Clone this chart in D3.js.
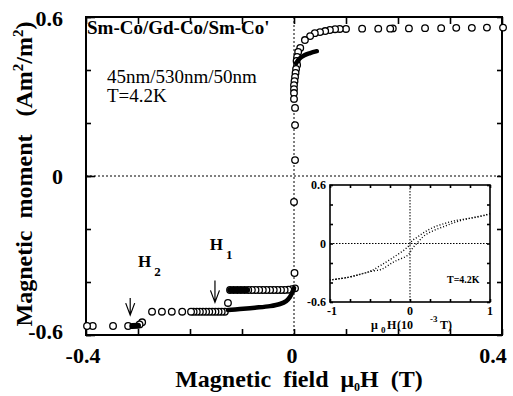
<!DOCTYPE html>
<html><head><meta charset="utf-8">
<script src="https://cdn.jsdelivr.net/npm/d3@7"></script>
<style>
body{margin:0;background:#fff}
svg{display:block}
text{font-family:"Liberation Serif","Times New Roman",serif;white-space:pre}
</style>
</head><body><svg id="c" width="513" height="396" font-family="Liberation Serif, Times New Roman, serif"></svg>
<script>
// ---------- data (field in T, moment in Am^2/m^2) ----------
const xTickValues = [-0.4,-0.3,-0.2,-0.1,0,0.1,0.2,0.3,0.4];
const yTickValues = [-0.6,-0.4,-0.2,0,0.2,0.4,0.6];
const xLabelValues = [-0.4,0,0.4];
const yLabelValues = [-0.6,0,0.6];

// major loop, open circles
const upperBranch = [
 [0.402,0.560],[0.371,0.560],[0.342,0.559],[0.312,0.559],[0.283,0.558],[0.252,0.558],
 [0.221,0.557],[0.190,0.557],[0.185,0.556],[0.162,0.556],[0.131,0.556],[0.100,0.555],
 [0.088,0.555],[0.079,0.554],[0.069,0.551],[0.060,0.547],[0.050,0.543],[0.040,0.539],
 [0.031,0.528],[0.021,0.513],[0.012,0.483],[0.008,0.468],[0.006,0.449],[0.005,0.434],
 [0.006,0.419],[0.004,0.404],[0.003,0.389],[0.002,0.374],[0.001,0.358],[0.000,0.343],
 [0.000,0.328],[0.000,0.313],[0.000,0.291],[0.002,0.257],[0.002,0.192],[0.002,0.060],
 [0.000,-0.098],[0.001,-0.366]
];
const lowerBranch = [
 [0.002,-0.424],[-0.004,-0.427],[-0.011,-0.429],[-0.018,-0.430],[-0.025,-0.430],[-0.032,-0.430],
 [-0.039,-0.430],[-0.046,-0.430],[-0.053,-0.430],[-0.060,-0.430],[-0.067,-0.430],[-0.074,-0.430],
 [-0.081,-0.430],[-0.088,-0.430],[-0.095,-0.430],[-0.102,-0.430],[-0.109,-0.430],[-0.116,-0.430],
 [-0.123,-0.430],
 [-0.127,-0.479],
 [-0.133,-0.512],[-0.139,-0.512],[-0.145,-0.512],[-0.151,-0.512],[-0.157,-0.512],[-0.163,-0.512],
 [-0.169,-0.512],[-0.175,-0.512],[-0.181,-0.512],[-0.187,-0.512],[-0.193,-0.512],[-0.198,-0.512],
 [-0.215,-0.512],[-0.235,-0.512],[-0.254,-0.512],[-0.273,-0.512],
 [-0.292,-0.552],[-0.297,-0.560],
 [-0.319,-0.566],[-0.348,-0.566],[-0.387,-0.566],[-0.398,-0.566]
];
// minor loops, filled (dense) points
const minorNearZeroUp = [[0.004,0.425],[0.010,0.442],[0.020,0.456],[0.031,0.464],[0.044,0.471]];
const minorReturnH1 = [[-0.127,-0.506],[-0.104,-0.502],[-0.075,-0.497],[-0.046,-0.491],[-0.027,-0.483],
 [-0.015,-0.472],[-0.008,-0.457],[-0.003,-0.438],[0.000,-0.423]];
const minorRowH1 = [[-0.123,-0.430],[-0.090,-0.430]];
const minorRowH2 = [[-0.311,-0.566],[-0.300,-0.565]];

// inset (field in 1e-3 T)
const insetXTicks = [-1,-0.75,-0.5,-0.25,0,0.25,0.5,0.75,1];
const insetYTicks = [-0.6,-0.4,-0.2,0,0.2,0.4,0.6];
const insetXLabels = [-1,0,1];
const insetYLabels = [-0.6,0,0.6];
const insetDescending = [[1.0,0.310],[0.94,0.292],[0.81,0.269],[0.69,0.251],[0.56,0.234],[0.44,0.207],
 [0.31,0.172],[0.19,0.121],[0.10,0.070],[0.025,0.026],[-0.025,-0.033],[-0.2,-0.138],[-0.36,-0.221],
 [-0.49,-0.282],[-0.61,-0.313],[-0.775,-0.347],[-1.0,-0.374]];
const insetAscending = [[-1.0,-0.374],[-0.775,-0.347],[-0.61,-0.313],[-0.49,-0.286],[-0.36,-0.265],
 [-0.2,-0.187],[-0.025,-0.118],[0.025,-0.056],[0.10,0.015],[0.19,0.087],[0.31,0.138],[0.44,0.179],
 [0.56,0.217],[0.69,0.248],[0.81,0.267],[0.94,0.290],[1.0,0.305]];

// annotations
const arrows = [{x:-0.152,from:-0.394,to:-0.477},{x:-0.315,from:-0.460,to:-0.525}];
const fieldLabels = [{name:"H",sub:"1",x:-0.162,y:-0.279},{name:"H",sub:"2",x:-0.300,y:-0.343}];

// ---------- drawing ----------
const svg = d3.select("#c");
const M = {l:86,r:502,t:17,b:335};
const x = d3.scaleLinear().domain([-0.4,0.4]).range([M.l,M.r]);
const y = d3.scaleLinear().domain([-0.6,0.6]).range([M.b,M.t]);

function axisG(axis, tx, ty){
  const g = svg.append("g").attr("transform",`translate(${tx},${ty})`).call(axis);
  g.select(".domain").remove();
  g.selectAll(".tick line").attr("stroke","#000").attr("stroke-width",1.6);
  g.selectAll(".tick text").remove();
  return g;
}
axisG(d3.axisBottom(x).tickValues(xTickValues).tickSize(-6),0,M.b);
axisG(d3.axisTop(x).tickValues(xTickValues).tickSize(-7),0,M.t);
axisG(d3.axisLeft(y).tickValues(yTickValues).tickSize(-5),M.l,0);
axisG(d3.axisLeft(y).tickValues(yLabelValues).tickSize(-9),M.l,0);
axisG(d3.axisRight(y).tickValues(yTickValues).tickSize(-5),M.r,0);

// zero lines
svg.append("line").attr("x1",M.l).attr("x2",M.r).attr("y1",y(0)).attr("y2",y(0))
  .attr("stroke","#000").attr("stroke-width",1).attr("stroke-dasharray","2,2");
svg.append("line").attr("x1",x(0)).attr("x2",x(0)).attr("y1",M.t).attr("y2",M.b)
  .attr("stroke","#000").attr("stroke-width",1).attr("stroke-dasharray","2,2");

// frame
svg.append("rect").attr("x",M.l).attr("y",M.t).attr("width",M.r-M.l).attr("height",M.b-M.t)
  .attr("fill","none").attr("stroke","#000").attr("stroke-width",2);

// tick labels
svg.selectAll(".xl").data(xLabelValues).join("text")
  .attr("x",d=>x(d)-(d>0?9:d<0?3:2)).attr("y",363).attr("text-anchor","middle")
  .attr("font-size",22).attr("font-weight","bold").text(d=>d===0?"0":d.toFixed(1));
svg.selectAll(".yl").data(yLabelValues).join("text")
  .attr("x",63).attr("y",d=>Math.max(M.t+1,Math.min(M.b-4,y(d)))).attr("dy","0.35em")
  .attr("text-anchor","end").attr("font-size",22).attr("font-weight","bold")
  .text(d=>d===0?"0":d.toFixed(1));

// axis titles
const xt = svg.append("text").attr("x",299).attr("y",387).attr("text-anchor","middle")
  .attr("font-size",24).attr("font-weight","bold");
xt.append("tspan").text("Magnetic  field  \u03bc");
xt.append("tspan").attr("dy",4).attr("font-size",12).text("0");
xt.append("tspan").attr("dy",-4).text("H  (T)");

const yt = svg.append("text").attr("transform","translate(32,174) rotate(-90)")
  .attr("text-anchor","middle").attr("font-size",24).attr("font-weight","bold");
yt.append("tspan").text("Magnetic  moment   (Am");
yt.append("tspan").attr("dy",-9).attr("font-size",15).text("2");
yt.append("tspan").attr("dy",9).text("/m");
yt.append("tspan").attr("dy",-9).attr("font-size",15).text("2");
yt.append("tspan").attr("dy",9).text(")");

// text annotations
svg.append("text").attr("x",87).attr("y",34).attr("font-size",19).attr("font-weight","bold")
  .text("Sm-Co/Gd-Co/Sm-Co'");
svg.append("text").attr("x",107).attr("y",83).attr("font-size",19).text("45nm/530nm/50nm");
svg.append("text").attr("x",107).attr("y",102).attr("font-size",19).text("T=4.2K");

// data: open circles
const pts = upperBranch.concat(lowerBranch);
svg.append("g").selectAll("circle").data(pts).join("circle")
  .attr("cx",d=>x(d[0])).attr("cy",d=>y(d[1])).attr("r",3.3)
  .attr("fill","#fff").attr("stroke","#000").attr("stroke-width",1.3);

// minor loops (dense filled points)
const line = d3.line().x(d=>x(d[0])).y(d=>y(d[1])).curve(d3.curveCatmullRom);
[[minorNearZeroUp,4.5],[minorReturnH1,4.5],[minorRowH1,6],[minorRowH2,6]].forEach(([d,w])=>{
  svg.append("path").attr("d",line(d)).attr("fill","none").attr("stroke","#000")
    .attr("stroke-width",w).attr("stroke-linecap","round");
});

// arrows and H labels
arrows.forEach(a=>{
  const ax=x(a.x), y0=y(a.from), y1=y(a.to);
  svg.append("path").attr("d",`M${ax},${y0}L${ax},${y1}M${ax-4.5},${y1-12}L${ax},${y1}L${ax+4.5},${y1-12}`)
    .attr("fill","none").attr("stroke","#000").attr("stroke-width",1.2);
});
fieldLabels.forEach(f=>{
  const t = svg.append("text").attr("x",x(f.x)).attr("y",y(f.y)).attr("font-size",17).attr("font-weight","bold");
  t.append("tspan").text(f.name);
  t.append("tspan").attr("dx",3).attr("dy",9).attr("font-size",13).text(f.sub);
});

// ---------- inset ----------
const I = {l:330,r:490,t:185,b:302};
const ix = d3.scaleLinear().domain([-1,1]).range([I.l,I.r]);
const iy = d3.scaleLinear().domain([-0.6,0.6]).range([I.b,I.t]);
svg.append("rect").attr("x",I.l).attr("y",I.t).attr("width",I.r-I.l).attr("height",I.b-I.t).attr("fill","#fff");
axisG(d3.axisBottom(ix).tickValues(insetXTicks).tickSize(-3),0,I.b);
axisG(d3.axisTop(ix).tickValues(insetXTicks).tickSize(-3),0,I.t);
axisG(d3.axisLeft(iy).tickValues(insetYTicks).tickSize(-3),I.l,0);
axisG(d3.axisRight(iy).tickValues(insetYTicks).tickSize(-3),I.r,0);
svg.append("line").attr("x1",I.l).attr("x2",I.r).attr("y1",iy(0)).attr("y2",iy(0))
  .attr("stroke","#000").attr("stroke-width",1).attr("stroke-dasharray","1.5,1.5");
svg.append("line").attr("x1",ix(0)).attr("x2",ix(0)).attr("y1",I.t).attr("y2",I.b)
  .attr("stroke","#000").attr("stroke-width",1).attr("stroke-dasharray","1.5,1.5");
svg.append("rect").attr("x",I.l).attr("y",I.t).attr("width",I.r-I.l).attr("height",I.b-I.t)
  .attr("fill","none").attr("stroke","#000").attr("stroke-width",1.6);

const iline = d3.line().x(d=>ix(d[0])).y(d=>iy(d[1])).curve(d3.curveCatmullRom);
[insetDescending,insetAscending].forEach(d=>{
  svg.append("path").attr("d",iline(d)).attr("fill","none").attr("stroke","#000")
    .attr("stroke-width",1.4).attr("stroke-dasharray","1,2");
});

svg.selectAll(".ixl").data(insetXLabels).join("text")
  .attr("x",d=>ix(d)+(d<0?2:0)).attr("y",315).attr("text-anchor","middle")
  .attr("font-size",12).attr("font-weight","bold").text(d=>String(d));
svg.selectAll(".iyl").data(insetYLabels).join("text")
  .attr("x",326).attr("y",d=>iy(d)).attr("dy","0.35em").attr("text-anchor","end")
  .attr("font-size",12).attr("font-weight","bold").text(d=>d===0?"0":d.toFixed(1));
svg.append("text").attr("x",447).attr("y",283).attr("font-size",10).attr("font-weight","bold").text("T=4.2K");

const it = svg.append("text").attr("y",329).attr("font-size",12).attr("font-weight","bold");
it.append("tspan").attr("x",371).text("\u03bc");
it.append("tspan").attr("x",381).attr("dy",4).attr("font-size",9).text("0");
it.append("tspan").attr("x",387).attr("dy",-4).text("H");
it.append("tspan").attr("x",397).text("(10");
it.append("tspan").attr("x",430).attr("dy",-7).attr("font-size",9).text("-3");
it.append("tspan").attr("x",440).attr("dy",7).text("T)");
</script>
</body></html>
